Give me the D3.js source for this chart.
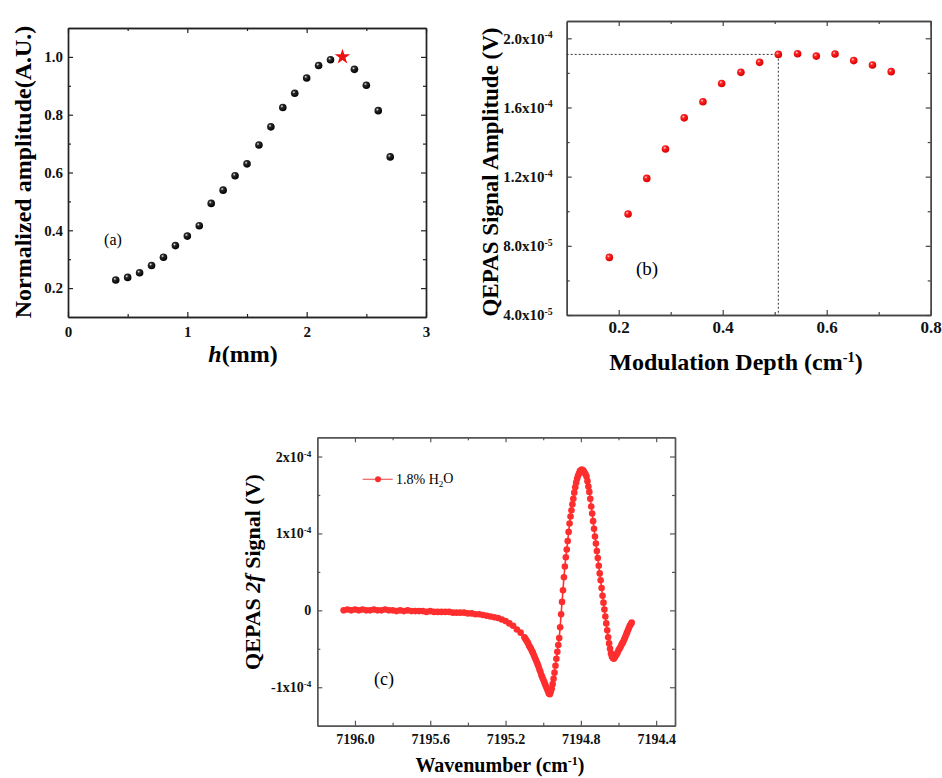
<!DOCTYPE html>
<html><head><meta charset="utf-8">
<script src="https://cdn.jsdelivr.net/npm/d3@7"></script>
<style>
body{margin:0;background:#fff}
svg{display:block}
text{font-family:"Liberation Serif","Times New Roman",serif}
</style>
</head><body>
<svg id="chart" width="942" height="778"></svg>
<script>
// ---------- Panel (a) data ----------
const aHeight = [0.4,0.5,0.6,0.7,0.8,0.9,1.0,1.1,1.2,1.3,1.4,1.5,1.6,1.7,1.8,1.9,2.0,2.1,2.2,2.4,2.5,2.6,2.7];
const aAmp    = [0.228,0.237,0.253,0.278,0.307,0.347,0.380,0.416,0.493,0.539,0.589,0.630,0.695,0.758,0.825,0.874,0.927,0.970,0.990,0.957,0.902,0.814,0.654];
const aStar   = [{h:2.3, amp:1.0}];
const aXTicks = [0,1,2,3], aXMinor = [0.5,1.5,2.5];
const aYTicks = [0.2,0.4,0.6,0.8,1.0], aYMinor = [0.3,0.5,0.7,0.9];

// ---------- Panel (b) data ----------
const bDepth  = [0.182,0.218,0.254,0.290,0.326,0.362,0.398,0.435,0.471,0.507,0.544,0.580,0.616,0.652,0.688,0.724];
const bAmp    = [7.33e-5,9.84e-5,1.19e-4,1.36e-4,1.54e-4,1.633e-4,1.739e-4,1.803e-4,1.861e-4,1.907e-4,1.911e-4,1.897e-4,1.909e-4,1.871e-4,1.846e-4,1.807e-4];
const bOptimum = {depth:0.507, amp:1.907e-4};
const bXTicks = [0.2,0.4,0.6,0.8], bXMinor = [0.3,0.5,0.7];
const bYTicks = [4e-5,8e-5,1.2e-4,1.6e-4,2.0e-4], bYMinor = [6e-5,1e-4,1.4e-4,1.8e-4];
const bYMant  = ["4.0x10","8.0x10","1.2x10","1.6x10","2.0x10"], bYExp = ["-5","-5","-4","-4","-4"];

// ---------- Panel (c) data (signal in units of 1e-4 V) ----------
const cWavenumber = [
7196.06,7196.04,7196.02,7196.00,7195.98,7195.96,7195.94,7195.92,7195.90,7195.88,7195.86,7195.84,
7195.82,7195.80,7195.78,7195.76,7195.74,7195.72,7195.70,7195.68,7195.66,7195.64,7195.62,7195.60,
7195.58,7195.56,7195.54,7195.52,7195.50,7195.48,7195.46,7195.44,7195.42,7195.40,7195.38,7195.36,
7195.34,7195.32,7195.30,7195.28,7195.26,7195.24,7195.22,7195.20,7195.18,7195.16,7195.14,7195.12,
7195.100,7195.095,7195.090,7195.085,7195.080,7195.075,7195.070,7195.065,7195.060,7195.055,
7195.050,7195.045,7195.040,7195.035,7195.030,7195.025,7195.020,7195.015,7195.010,7195.005,
7195.000,7194.995,7194.990,7194.985,7194.980,7194.975,7194.970,7194.965,7194.960,7194.955,
7194.950,7194.945,7194.940,7194.935,7194.930,7194.925,7194.920,7194.915,7194.910,7194.905,
7194.900,7194.895,7194.890,7194.885,7194.880,7194.875,7194.870,7194.865,7194.860,7194.855,
7194.850,7194.845,7194.840,7194.835,7194.830,7194.825,7194.820,7194.815,7194.810,7194.805,
7194.800,7194.795,7194.790,7194.785,7194.780,7194.775,7194.770,7194.765,7194.760,7194.755,
7194.750,7194.745,7194.740,7194.735,7194.730,7194.725,7194.720,7194.715,7194.710,7194.705,
7194.700,7194.695,7194.690,7194.685,7194.680,7194.675,7194.670,7194.665,7194.660,7194.655,
7194.650,7194.645,7194.640,7194.635,7194.630,7194.625,7194.620,7194.615,7194.610,7194.605,
7194.600,7194.595,7194.590,7194.585,7194.580,7194.575,7194.570,7194.565,7194.560,7194.555,
7194.550,7194.545,7194.540,7194.535,7194.530];
const cSignal = [
0.00,0.01,0.00,0.01,0.00,0.01,0.00,0.00,0.01,0.00,0.00,0.01,
0.00,0.00,-0.01,0.00,-0.01,0.00,-0.01,-0.01,-0.01,-0.01,-0.02,-0.01,
-0.02,-0.02,-0.02,-0.02,-0.02,-0.03,-0.03,-0.03,-0.03,-0.04,-0.04,-0.05,
-0.05,-0.06,-0.07,-0.08,-0.09,-0.10,-0.12,-0.14,-0.17,-0.20,-0.25,-0.29,
-0.35,-0.37,-0.39,-0.41,-0.43,-0.46,-0.48,-0.50,-0.53,-0.55,
-0.58,-0.61,-0.64,-0.67,-0.70,-0.73,-0.77,-0.80,-0.84,-0.87,
-0.90,-0.93,-0.96,-0.99,-1.02,-1.05,-1.08,-1.09,-1.06,-1.02,
-0.96,-0.89,-0.81,-0.72,-0.63,-0.54,-0.45,-0.36,-0.22,-0.05,
0.11,0.26,0.43,0.57,0.69,0.79,0.90,1.02,1.13,1.22,
1.30,1.38,1.45,1.53,1.60,1.66,1.71,1.75,1.78,1.81,
1.82,1.83,1.82,1.81,1.79,1.77,1.74,1.68,1.61,1.54,
1.45,1.35,1.26,1.16,1.06,0.96,0.87,0.77,0.68,0.58,
0.48,0.39,0.29,0.19,0.10,0.01,-0.08,-0.17,-0.26,-0.35,
-0.43,-0.50,-0.56,-0.60,-0.62,-0.63,-0.61,-0.59,-0.57,-0.55,
-0.52,-0.50,-0.48,-0.45,-0.43,-0.41,-0.38,-0.35,-0.32,-0.29,
-0.26,-0.23,-0.20,-0.18,-0.16];
const cXTicks = [7196.0,7195.6,7195.2,7194.8,7194.4], cXMinor = [7195.8,7195.4,7195.0,7194.6];
const cYTicks = [-1,0,1,2], cYMinor = [-0.5,0.5,1.5];
const cYMant = ["-1x10","0","1x10","2x10"], cYExp = ["-4","","-4","-4"];

// ---------- drawing ----------
const svg = d3.select("#chart");
svg.append("rect").attr("width",942).attr("height",778).attr("fill","#fff");
const defs = svg.append("defs");
function sphere(id, light, mid, dark){
  const g = defs.append("radialGradient").attr("id",id).attr("cx","38%").attr("cy","35%").attr("r","65%");
  g.append("stop").attr("offset","0%").attr("stop-color",light);
  g.append("stop").attr("offset","30%").attr("stop-color",mid);
  g.append("stop").attr("offset","100%").attr("stop-color",dark);
}
sphere("gBlack","#f4f4f4","#2a2a2a","#000");
sphere("gRed","#ffe0e0","#ff2222","#d80000");

function axes(g, x, y, c){
  const [xl, xr] = x.range(), [yb, yt] = y.range();
  const mk = [];
  mk.push(g.append("g").attr("transform",`translate(0,${yb})`)
    .call(d3.axisBottom(x).tickValues(c.xT).tickFormat(c.xF).tickSizeInner(-5).tickSizeOuter(0).tickPadding(c.xPad)));
  mk.push(g.append("g").attr("transform",`translate(0,${yb})`)
    .call(d3.axisBottom(x).tickValues(c.xM).tickFormat("").tickSizeInner(-3).tickSizeOuter(0)));
  mk.push(g.append("g").attr("transform",`translate(0,${yt})`)
    .call(d3.axisTop(x).tickValues(c.xT).tickFormat("").tickSizeInner(-5).tickSizeOuter(0)));
  mk.push(g.append("g").attr("transform",`translate(0,${yt})`)
    .call(d3.axisTop(x).tickValues(c.xM).tickFormat("").tickSizeInner(-3).tickSizeOuter(0)));
  const left = g.append("g").attr("transform",`translate(${xl},0)`)
    .call(d3.axisLeft(y).tickValues(c.yT).tickFormat(c.yF).tickSizeInner(-5).tickSizeOuter(0).tickPadding(c.yPad));
  mk.push(left);
  mk.push(g.append("g").attr("transform",`translate(${xl},0)`)
    .call(d3.axisLeft(y).tickValues(c.yM).tickFormat("").tickSizeInner(-3).tickSizeOuter(0)));
  mk.push(g.append("g").attr("transform",`translate(${xr},0)`)
    .call(d3.axisRight(y).tickValues(c.yT).tickFormat("").tickSizeInner(-5).tickSizeOuter(0)));
  mk.push(g.append("g").attr("transform",`translate(${xr},0)`)
    .call(d3.axisRight(y).tickValues(c.yM).tickFormat("").tickSizeInner(-3).tickSizeOuter(0)));
  mk.forEach(a=>{
    a.selectAll(".domain").attr("stroke",c.stroke).attr("stroke-width",1.4);
    a.selectAll(".tick line").attr("stroke",c.stroke).attr("stroke-width",1.2);
    a.selectAll("text").attr("font-family",'"Liberation Serif",serif').attr("font-weight","bold").attr("fill","#111");
  });
  mk[0].selectAll("text").attr("font-size",c.xFs);
  left.selectAll("text").attr("font-size",c.yFs);
  return left;
}
function supLabels(axisG, ticks, mant, exps){
  axisG.selectAll(".tick text").each(function(d){
    const i = ticks.findIndex(t=>Math.abs(t-d)<1e-12);
    const t = d3.select(this).text("");
    t.append("tspan").text(mant[i]);
    if (exps[i]) t.append("tspan").attr("dy","-0.55em").attr("font-size","0.65em").text(exps[i]);
  });
}

// ===== Panel (a) =====
{
  const x = d3.scaleLinear().domain([0,3]).range([68,426]);
  const y = d3.scaleLinear().domain([0.1,1.1]).range([317,28]);
  const g = svg.append("g");
  axes(g,x,y,{xT:aXTicks,xM:aXMinor,yT:aYTicks,yM:aYMinor,xF:d3.format("d"),yF:d3.format(".1f"),
    xPad:9,yPad:5,xFs:15,yFs:15,stroke:"#222"});
  g.append("g").selectAll("circle").data(aHeight).join("circle")
    .attr("cx",(d)=>x(d)).attr("cy",(d,i)=>y(aAmp[i])).attr("r",3.8).attr("fill","url(#gBlack)");
  g.append("g").selectAll("path").data(aStar).join("path")
    .attr("transform",d=>`translate(${x(d.h)},${y(d.amp)})`)
    .attr("d",d3.symbol(d3.symbolStar,75)).attr("fill","#ee1111");
  g.append("text").attr("x",113).attr("y",245).attr("text-anchor","middle").attr("font-size",16).text("(a)");
  g.append("text").attr("transform","translate(31,172) rotate(-90)").attr("text-anchor","middle")
    .attr("font-size",24).attr("font-weight","bold").text("Normalized amplitude(A.U.)");
  const xl = g.append("text").attr("x",243).attr("y",362).attr("text-anchor","middle").attr("font-size",24).attr("font-weight","bold");
  xl.append("tspan").attr("font-style","italic").text("h");
  xl.append("tspan").text("(mm)");
}

// ===== Panel (b) =====
{
  const x = d3.scaleLinear().domain([0.1,0.8]).range([566.7,930.7]);
  const y = d3.scaleLinear().domain([4e-5,2.1e-4]).range([315,21]);
  const g = svg.append("g");
  const left = axes(g,x,y,{xT:bXTicks,xM:bXMinor,yT:bYTicks,yM:bYMinor,xF:d3.format(".1f"),yF:d3.format(".1e"),
    xPad:6,yPad:14,xFs:17,yFs:15,stroke:"#444"});
  supLabels(left,bYTicks,bYMant,bYExp);
  g.append("path").attr("fill","none").attr("stroke","#333").attr("stroke-width",1).attr("stroke-dasharray","2,2")
    .attr("d",d3.line()([[x(0.1),y(bOptimum.amp)],[x(bOptimum.depth),y(bOptimum.amp)],[x(bOptimum.depth),y(4e-5)]]));
  g.append("g").selectAll("circle").data(bDepth).join("circle")
    .attr("cx",d=>x(d)).attr("cy",(d,i)=>y(bAmp[i])).attr("r",3.8).attr("fill","url(#gRed)");
  g.append("text").attr("x",647).attr("y",275).attr("text-anchor","middle").attr("font-size",19).text("(b)");
  g.append("text").attr("transform","translate(498,172) rotate(-90)").attr("text-anchor","middle")
    .attr("font-size",23).attr("font-weight","bold").text("QEPAS Signal Amplitude (V)");
  const xl = g.append("text").attr("x",736).attr("y",370).attr("text-anchor","middle").attr("font-size",24).attr("font-weight","bold");
  xl.append("tspan").text("Modulation Depth (cm");
  xl.append("tspan").attr("dy","-0.55em").attr("font-size","0.6em").text("-1");
  xl.append("tspan").attr("dy","0.33em").text(")");
}

// ===== Panel (c) =====
{
  const x = d3.scaleLinear().domain([7196.2,7194.3]).range([317.3,675]);
  const y = d3.scaleLinear().domain([-1.5,2.25]).range([725.7,437.3]);
  const g = svg.append("g");
  const left = axes(g,x,y,{xT:cXTicks,xM:cXMinor,yT:cYTicks,yM:cYMinor,xF:d3.format(".1f"),yF:d3.format("d"),
    xPad:8,yPad:6,xFs:14,yFs:14,stroke:"#555"});
  supLabels(left,cYTicks,cYMant,cYExp);
  const pts = cWavenumber.map((w,i)=>[x(w),y(cSignal[i])]);
  g.append("path").attr("fill","none").attr("stroke","#ff3030").attr("stroke-width",1.6).attr("d",d3.line()(pts));
  g.append("g").selectAll("circle").data(cWavenumber).join("circle")
    .attr("cx",d=>x(d)).attr("cy",(d,i)=>y(cSignal[i])).attr("r",3.3).attr("fill","#ff2e2e");
  // legend
  g.append("line").attr("x1",362.7).attr("x2",392.7).attr("y1",479.3).attr("y2",479.3).attr("stroke","#f06060").attr("stroke-width",1.2);
  g.append("circle").attr("cx",378).attr("cy",479.3).attr("r",3).attr("fill","#ff2e2e");
  const lt = g.append("text").attr("x",396).attr("y",484).attr("font-size",14);
  lt.append("tspan").text("1.8% H");
  lt.append("tspan").attr("dy","0.3em").attr("font-size","0.65em").text("2");
  lt.append("tspan").attr("dy","-0.3em").text("O");
  g.append("text").attr("x",384).attr("y",685).attr("text-anchor","middle").attr("font-size",18).text("(c)");
  const yl = g.append("text").attr("transform","translate(260,572) rotate(-90)").attr("text-anchor","middle")
    .attr("font-size",22).attr("font-weight","bold");
  yl.append("tspan").text("QEPAS ");
  yl.append("tspan").attr("font-style","italic").text("2f");
  yl.append("tspan").text(" Signal (V)");
  const xl = g.append("text").attr("x",500).attr("y",772).attr("text-anchor","middle").attr("font-size",20).attr("font-weight","bold");
  xl.append("tspan").text("Wavenumber (cm");
  xl.append("tspan").attr("dy","-0.55em").attr("font-size","0.6em").text("-1");
  xl.append("tspan").attr("dy","0.33em").text(")");
}
</script>
</body></html>
